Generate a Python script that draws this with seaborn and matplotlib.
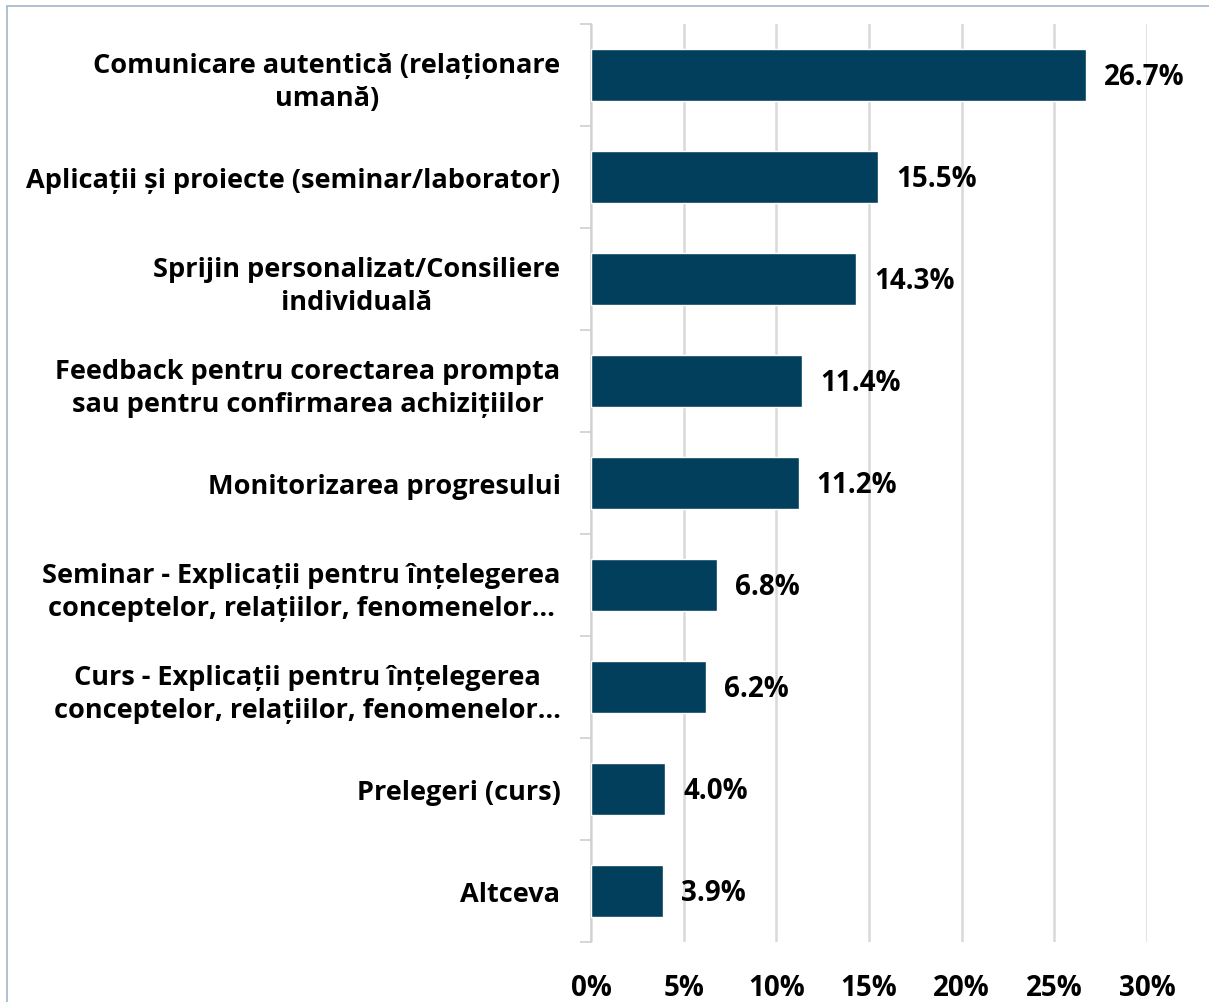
import matplotlib
matplotlib.use("Agg")
import matplotlib.pyplot as plt
import seaborn as sns
import numpy as np
from matplotlib.patches import Rectangle
from matplotlib.ticker import FixedLocator

# categorii si procente
categorii = [
    "Comunicare autentică (relaționare\numană)",
    "Aplicații și proiecte (seminar/laborator)",
    "Sprijin personalizat/Consiliere\nindividuală",
    "Feedback pentru corectarea prompta\nsau pentru confirmarea achizițiilor",
    "Monitorizarea progresului",
    "Seminar - Explicații pentru înțelegerea\nconceptelor, relațiilor, fenomenelor…",
    "Curs - Explicații pentru înțelegerea\nconceptelor, relațiilor, fenomenelor…",
    "Prelegeri (curs)",
    "Altceva",
]
procente = [26.7, 15.5, 14.3, 11.4, 11.2, 6.8, 6.2, 4.0, 3.9]
etichete_x = ["0%", "5%", "10%", "15%", "20%", "25%", "30%"]

sns.set_style("white")
plt.rcParams["font.family"] = ["Open Sans", "DejaVu Sans"]
plt.rcParams["text.color"] = "black"
plt.rcParams["xtick.color"] = "black"
plt.rcParams["ytick.color"] = "black"

fig = plt.figure(figsize=(12.09, 10.03), dpi=100)
ax = fig.add_axes([591 / 1209, 1 - 943 / 1003, (1147 - 591) / 1209, (943 - 25) / 1003])

sns.barplot(x=procente, y=categorii, orient="h", color="#023F5C",
            saturation=1, width=0.51, ax=ax, zorder=3)

ax.set_xlim(0, 30)
ax.set_ylim(len(categorii) - 0.5, -0.5)
ax.set_xticks(np.arange(0, 31, 5))
ax.set_xticklabels(etichete_x, fontsize=20, fontweight="bold", color="black")
ax.tick_params(axis="x", length=0, pad=22)
ax.grid(axis="x", color="#d9d9d9", linewidth=1.8, zorder=0)
ax.grid(axis="y", visible=False)

# etichete categorii
ax.tick_params(axis="y", which="major", length=0, pad=22)
for lbl in ax.get_yticklabels():
    lbl.set_fontsize(19.5)
    lbl.set_fontweight("bold")
    lbl.set_color("black")
    lbl.set_multialignment("center")
    lbl.set_linespacing(1.35)
ax.yaxis.set_minor_locator(FixedLocator(np.arange(-0.5, len(categorii), 1)))
ax.tick_params(axis="y", which="minor", length=8, width=1.2, color="#d0d0d0", left=True)

for s in ["top", "right", "bottom"]:
    ax.spines[s].set_visible(False)
ax.spines["left"].set_color("#d0d0d0")
ax.spines["left"].set_linewidth(1.2)
ax.set_xlabel("")
ax.set_ylabel("")

# valori
for i, v in enumerate(procente):
    ax.annotate(f"{v:.1f}%", xy=(v, i), xytext=(13, -1), textcoords="offset points",
                va="center", ha="left", fontsize=20, fontweight="bold", color="black")

# chenar figura
fig.patches.append(Rectangle((7 / 1209, -0.1), 1.2, 1 - 7 / 1003 + 0.1,
                             transform=fig.transFigure, fill=False,
                             edgecolor="#a3b5c6", linewidth=1.2))

fig.savefig("out.png", dpi=100)
